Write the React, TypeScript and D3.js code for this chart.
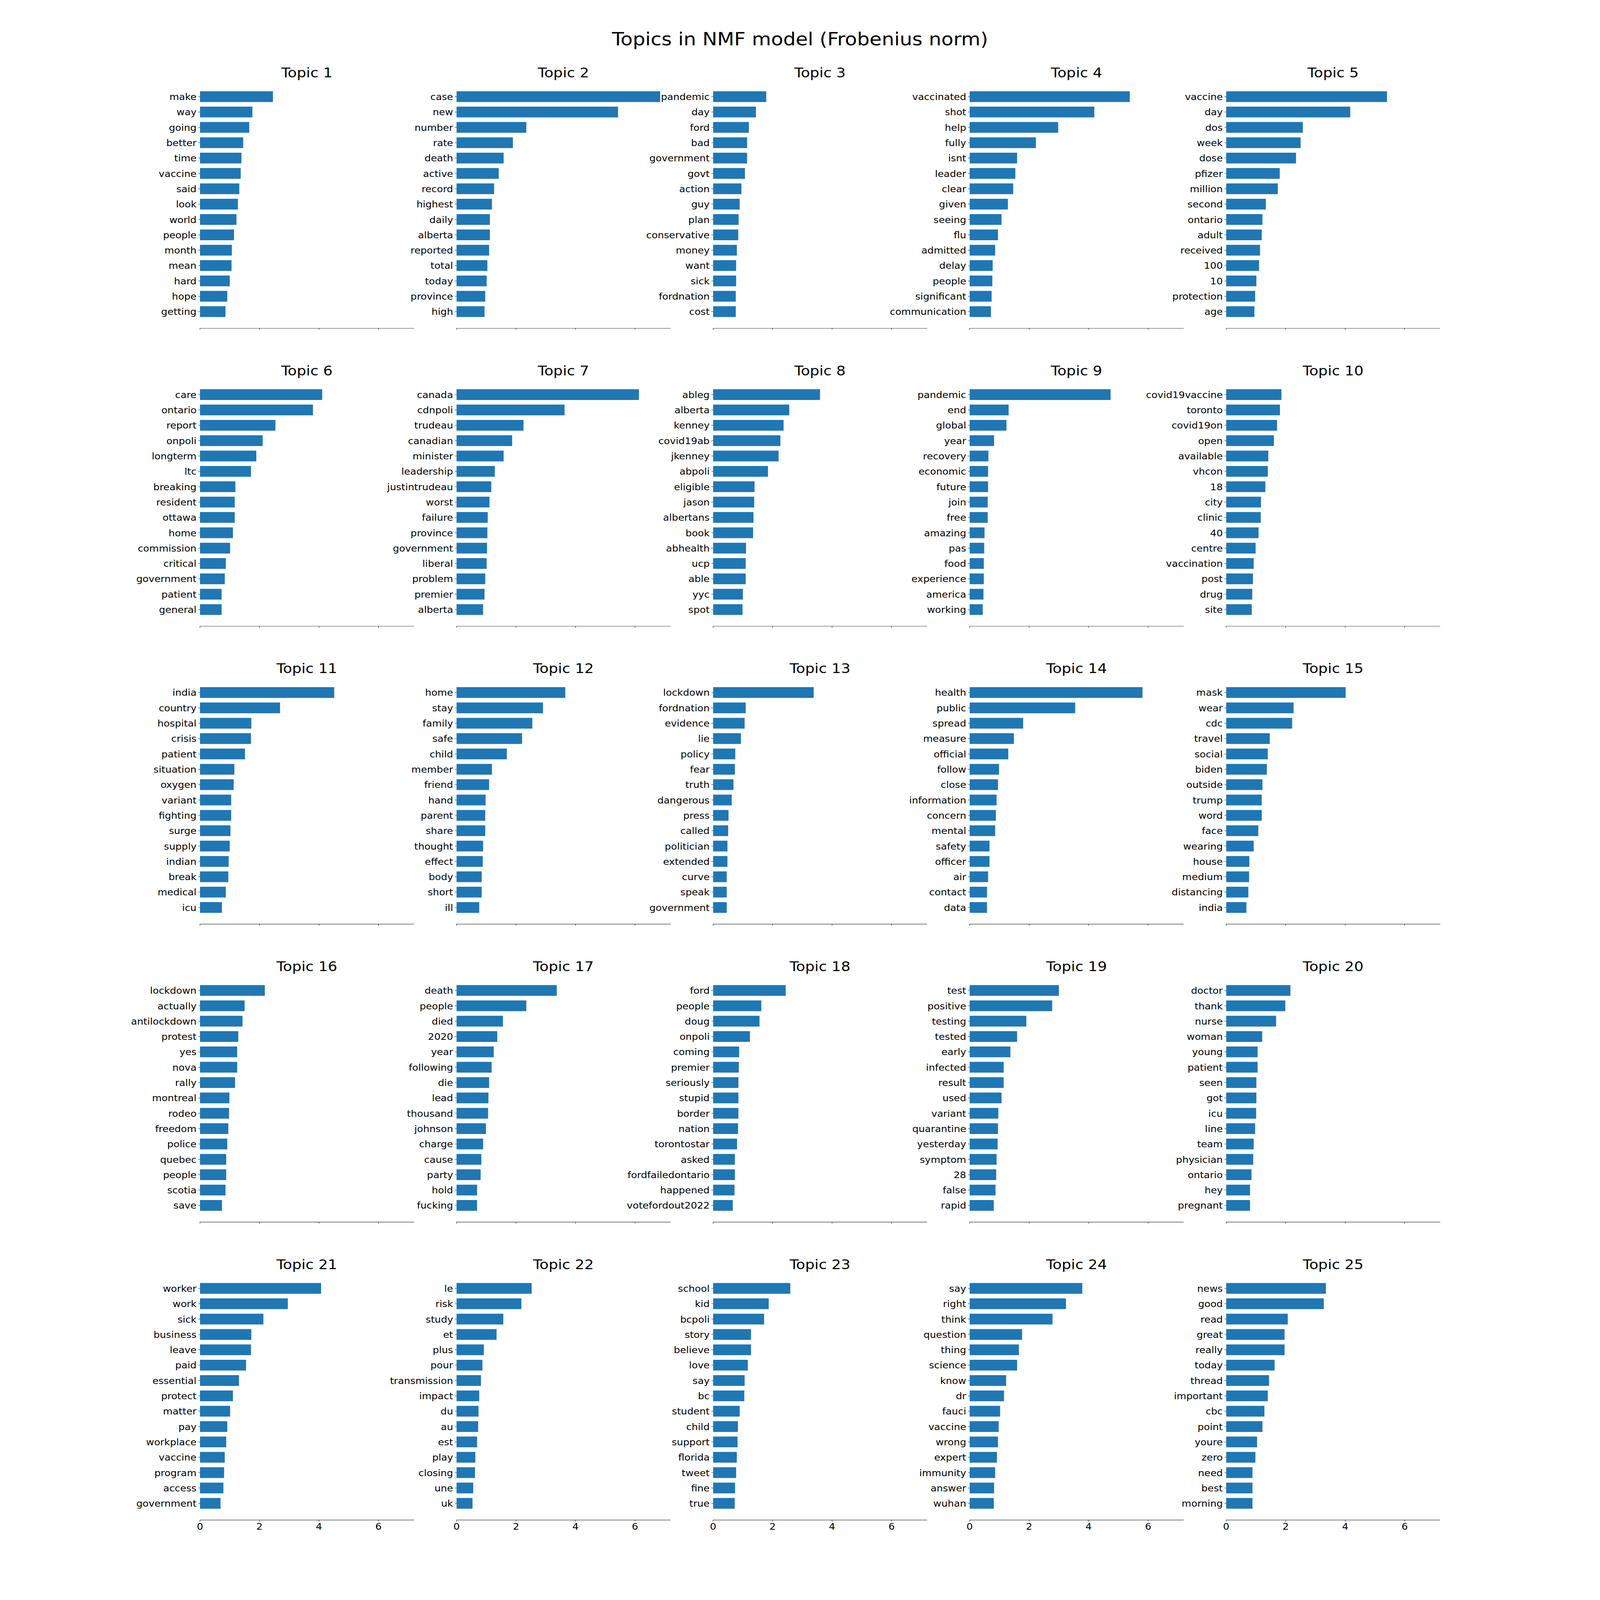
import React from "react";
import * as d3 from "d3";

// ---------------- data ----------------
const chartTitle = "Topics in NMF model (Frobenius norm)";

const topicTitles: string[] = [
  "Topic 1", "Topic 2", "Topic 3", "Topic 4", "Topic 5",
  "Topic 6", "Topic 7", "Topic 8", "Topic 9", "Topic 10",
  "Topic 11", "Topic 12", "Topic 13", "Topic 14", "Topic 15",
  "Topic 16", "Topic 17", "Topic 18", "Topic 19", "Topic 20",
  "Topic 21", "Topic 22", "Topic 23", "Topic 24", "Topic 25",
];

const topicWords: string[][] = [
  ["make", "way", "going", "better", "time", "vaccine", "said", "look", "world", "people", "month", "mean", "hard", "hope", "getting"],
  ["case", "new", "number", "rate", "death", "active", "record", "highest", "daily", "alberta", "reported", "total", "today", "province", "high"],
  ["pandemic", "day", "ford", "bad", "government", "govt", "action", "guy", "plan", "conservative", "money", "want", "sick", "fordnation", "cost"],
  ["vaccinated", "shot", "help", "fully", "isnt", "leader", "clear", "given", "seeing", "flu", "admitted", "delay", "people", "significant", "communication"],
  ["vaccine", "day", "dos", "week", "dose", "pfizer", "million", "second", "ontario", "adult", "received", "100", "10", "protection", "age"],
  ["care", "ontario", "report", "onpoli", "longterm", "ltc", "breaking", "resident", "ottawa", "home", "commission", "critical", "government", "patient", "general"],
  ["canada", "cdnpoli", "trudeau", "canadian", "minister", "leadership", "justintrudeau", "worst", "failure", "province", "government", "liberal", "problem", "premier", "alberta"],
  ["ableg", "alberta", "kenney", "covid19ab", "jkenney", "abpoli", "eligible", "jason", "albertans", "book", "abhealth", "ucp", "able", "yyc", "spot"],
  ["pandemic", "end", "global", "year", "recovery", "economic", "future", "join", "free", "amazing", "pas", "food", "experience", "america", "working"],
  ["covid19vaccine", "toronto", "covid19on", "open", "available", "vhcon", "18", "city", "clinic", "40", "centre", "vaccination", "post", "drug", "site"],
  ["india", "country", "hospital", "crisis", "patient", "situation", "oxygen", "variant", "fighting", "surge", "supply", "indian", "break", "medical", "icu"],
  ["home", "stay", "family", "safe", "child", "member", "friend", "hand", "parent", "share", "thought", "effect", "body", "short", "ill"],
  ["lockdown", "fordnation", "evidence", "lie", "policy", "fear", "truth", "dangerous", "press", "called", "politician", "extended", "curve", "speak", "government"],
  ["health", "public", "spread", "measure", "official", "follow", "close", "information", "concern", "mental", "safety", "officer", "air", "contact", "data"],
  ["mask", "wear", "cdc", "travel", "social", "biden", "outside", "trump", "word", "face", "wearing", "house", "medium", "distancing", "india"],
  ["lockdown", "actually", "antilockdown", "protest", "yes", "nova", "rally", "montreal", "rodeo", "freedom", "police", "quebec", "people", "scotia", "save"],
  ["death", "people", "died", "2020", "year", "following", "die", "lead", "thousand", "johnson", "charge", "cause", "party", "hold", "fucking"],
  ["ford", "people", "doug", "onpoli", "coming", "premier", "seriously", "stupid", "border", "nation", "torontostar", "asked", "fordfailedontario", "happened", "votefordout2022"],
  ["test", "positive", "testing", "tested", "early", "infected", "result", "used", "variant", "quarantine", "yesterday", "symptom", "28", "false", "rapid"],
  ["doctor", "thank", "nurse", "woman", "young", "patient", "seen", "got", "icu", "line", "team", "physician", "ontario", "hey", "pregnant"],
  ["worker", "work", "sick", "business", "leave", "paid", "essential", "protect", "matter", "pay", "workplace", "vaccine", "program", "access", "government"],
  ["le", "risk", "study", "et", "plus", "pour", "transmission", "impact", "du", "au", "est", "play", "closing", "une", "uk"],
  ["school", "kid", "bcpoli", "story", "believe", "love", "say", "bc", "student", "child", "support", "florida", "tweet", "fine", "true"],
  ["say", "right", "think", "question", "thing", "science", "know", "dr", "fauci", "vaccine", "wrong", "expert", "immunity", "answer", "wuhan"],
  ["news", "good", "read", "great", "really", "today", "thread", "important", "cbc", "point", "youre", "zero", "need", "best", "morning"],
];

const topicWeights: number[][] = [
  [2.452, 1.762, 1.655, 1.452, 1.393, 1.369, 1.321, 1.274, 1.226, 1.143, 1.071, 1.060, 1.000, 0.917, 0.857],
  [6.845, 5.429, 2.345, 1.893, 1.583, 1.417, 1.262, 1.190, 1.119, 1.119, 1.095, 1.036, 1.012, 0.964, 0.940],
  [1.786, 1.440, 1.202, 1.143, 1.143, 1.071, 0.952, 0.893, 0.857, 0.845, 0.798, 0.774, 0.774, 0.762, 0.762],
  [5.381, 4.190, 2.976, 2.226, 1.595, 1.536, 1.464, 1.286, 1.071, 0.952, 0.857, 0.774, 0.762, 0.738, 0.714],
  [5.405, 4.170, 2.576, 2.502, 2.347, 1.799, 1.733, 1.333, 1.218, 1.194, 1.137, 1.104, 1.014, 0.973, 0.948],
  [4.107, 3.798, 2.536, 2.107, 1.893, 1.714, 1.190, 1.167, 1.167, 1.107, 1.012, 0.869, 0.833, 0.726, 0.726],
  [6.131, 3.631, 2.250, 1.869, 1.583, 1.286, 1.167, 1.107, 1.048, 1.036, 1.024, 1.012, 0.964, 0.940, 0.893],
  [3.595, 2.560, 2.369, 2.262, 2.202, 1.845, 1.393, 1.381, 1.357, 1.345, 1.107, 1.095, 1.095, 1.000, 0.988],
  [4.738, 1.310, 1.238, 0.821, 0.631, 0.619, 0.619, 0.607, 0.607, 0.500, 0.488, 0.476, 0.476, 0.464, 0.440],
  [1.856, 1.807, 1.709, 1.603, 1.415, 1.398, 1.316, 1.169, 1.161, 1.087, 0.989, 0.924, 0.899, 0.875, 0.859],
  [4.512, 2.690, 1.726, 1.714, 1.512, 1.155, 1.131, 1.048, 1.048, 1.024, 1.000, 0.964, 0.952, 0.869, 0.738],
  [3.655, 2.905, 2.548, 2.202, 1.690, 1.190, 1.095, 0.976, 0.964, 0.964, 0.893, 0.881, 0.845, 0.845, 0.762],
  [3.381, 1.095, 1.060, 0.935, 0.745, 0.732, 0.685, 0.625, 0.518, 0.506, 0.482, 0.482, 0.458, 0.458, 0.458],
  [5.810, 3.548, 1.798, 1.488, 1.298, 0.988, 0.952, 0.905, 0.881, 0.857, 0.667, 0.667, 0.619, 0.583, 0.583],
  [4.015, 2.265, 2.216, 1.464, 1.398, 1.365, 1.218, 1.194, 1.194, 1.079, 0.924, 0.777, 0.769, 0.744, 0.679],
  [2.179, 1.500, 1.429, 1.286, 1.250, 1.250, 1.179, 0.988, 0.976, 0.952, 0.917, 0.881, 0.881, 0.857, 0.738],
  [3.369, 2.345, 1.560, 1.369, 1.250, 1.179, 1.095, 1.071, 1.060, 0.988, 0.893, 0.833, 0.810, 0.690, 0.690],
  [2.440, 1.619, 1.560, 1.238, 0.875, 0.863, 0.851, 0.851, 0.851, 0.839, 0.804, 0.732, 0.732, 0.720, 0.661],
  [3.000, 2.774, 1.905, 1.595, 1.369, 1.143, 1.143, 1.071, 0.964, 0.952, 0.940, 0.905, 0.893, 0.869, 0.810],
  [2.159, 1.987, 1.676, 1.210, 1.055, 1.055, 1.014, 1.014, 1.006, 0.973, 0.924, 0.908, 0.850, 0.801, 0.801],
  [4.071, 2.952, 2.131, 1.726, 1.714, 1.548, 1.310, 1.107, 1.012, 0.917, 0.881, 0.833, 0.810, 0.786, 0.690],
  [2.524, 2.179, 1.571, 1.345, 0.917, 0.869, 0.821, 0.762, 0.738, 0.726, 0.690, 0.631, 0.619, 0.560, 0.536],
  [2.595, 1.869, 1.714, 1.274, 1.274, 1.167, 1.060, 1.048, 0.893, 0.833, 0.821, 0.798, 0.774, 0.738, 0.726],
  [3.786, 3.238, 2.786, 1.762, 1.655, 1.595, 1.226, 1.155, 1.024, 0.976, 0.952, 0.917, 0.857, 0.821, 0.810],
  [3.352, 3.279, 2.069, 1.962, 1.962, 1.627, 1.439, 1.398, 1.284, 1.218, 1.038, 0.981, 0.883, 0.883, 0.883],
];

const xTicks: number[] = [0, 2, 4, 6];

// ---------------- layout (figure coordinates, scaled to the window via viewBox) ----------------
const FIG_W = 4500;
const FIG_H = 5000;
const DPI = 100;
const pt = (v: number) => (v * DPI) / 72;

const NCOLS = 5;
const NROWS = 5;
const LEFT = 0.125 * FIG_W;
const RIGHT = 0.9 * FIG_W;
const TOP = (1 - 0.95) * FIG_H;
const BOTTOM = (1 - 0.05) * FIG_H;
const WSPACE = 0.2;
const HSPACE = 0.2;
const AX_W = (RIGHT - LEFT) / (NCOLS + (NCOLS - 1) * WSPACE);
const AX_H = (BOTTOM - TOP) / (NROWS + (NROWS - 1) * HSPACE);

const BAR_COLOR = "#1f77b4";
const FONT = "'DejaVu Sans', sans-serif";
const TICK_FS = pt(20);
const TITLE_FS = pt(30);
const SUPTITLE_FS = pt(40);
const TICK_LEN = pt(3.5);
const TICK_PAD = pt(3.5);
const LINE_W = pt(0.8);
const BAR_H = 0.7;

const allMax = d3.max(topicWeights.flat()) as number;
const xMax = allMax * 1.05;

function Subplot({ idx }: { idx: number }) {
  const row = Math.floor(idx / NCOLS);
  const col = idx % NCOLS;
  const x0 = LEFT + col * AX_W * (1 + WSPACE);
  const y0 = TOP + row * AX_H * (1 + HSPACE);
  const words = topicWords[idx];
  const weights = topicWeights[idx];
  const n = words.length;
  const dataLo = -BAR_H / 2;
  const dataHi = n - 1 + BAR_H / 2;
  const m = 0.05 * (dataHi - dataLo);
  const y = d3.scaleLinear().domain([dataLo - m, dataHi + m]).range([y0, y0 + AX_H]);
  const x = d3.scaleLinear().domain([0, xMax]).range([x0, x0 + AX_W]);
  const bandPx = Math.abs(y(1) - y(0));
  const showXLabels = row === NROWS - 1;
  return (
    <g>
      <text
        x={x0 + AX_W / 2}
        y={y0 - pt(6)}
        textAnchor="middle"
        fontSize={TITLE_FS}
        fontFamily={FONT}
        fill="#000"
      >
        {topicTitles[idx]}
      </text>
      {weights.map((v, i) => (
        <rect
          key={i}
          x={x(0)}
          y={y(i) - (BAR_H * bandPx) / 2}
          width={x(v) - x(0)}
          height={BAR_H * bandPx}
          fill={BAR_COLOR}
        />
      ))}
      {words.map((w, i) => (
        <g key={"yt" + i}>
          <line
            x1={x0 - TICK_LEN}
            x2={x0}
            y1={y(i)}
            y2={y(i)}
            stroke="#000"
            strokeWidth={LINE_W}
          />
          <text
            x={x0 - TICK_LEN - TICK_PAD}
            y={y(i)}
            dy="0.38em"
            textAnchor="end"
            fontSize={TICK_FS}
            fontFamily={FONT}
            fill="#000"
          >
            {w}
          </text>
        </g>
      ))}
      <line
        x1={x0}
        x2={x0 + AX_W}
        y1={y0 + AX_H}
        y2={y0 + AX_H}
        stroke="#000"
        strokeWidth={LINE_W}
        strokeLinecap="square"
      />
      {xTicks.map((t) => (
        <g key={"xt" + t}>
          <line
            x1={x(t)}
            x2={x(t)}
            y1={y0 + AX_H}
            y2={y0 + AX_H + TICK_LEN}
            stroke="#000"
            strokeWidth={LINE_W}
          />
          {showXLabels && (
            <text
              x={x(t)}
              y={y0 + AX_H + TICK_LEN + TICK_PAD + 0.76 * TICK_FS}
              textAnchor="middle"
              fontSize={TICK_FS}
              fontFamily={FONT}
              fill="#000"
            >
              {t}
            </text>
          )}
        </g>
      ))}
    </g>
  );
}

export default function App() {
  return (
    <svg
      viewBox={`0 0 ${FIG_W} ${FIG_H}`}
      preserveAspectRatio="none"
      style={{
        position: "absolute",
        left: 0,
        top: 0,
        width: "100vw",
        height: "100vh",
        background: "#fff",
        display: "block",
      }}
    >
      <rect x={0} y={0} width={FIG_W} height={FIG_H} fill="#fff" />
      <text
        x={FIG_W / 2}
        y={0.02 * FIG_H + 0.76 * SUPTITLE_FS}
        textAnchor="middle"
        fontSize={SUPTITLE_FS}
        fontFamily={FONT}
        fill="#000"
      >
        {chartTitle}
      </text>
      {topicTitles.map((_, i) => (
        <Subplot key={i} idx={i} />
      ))}
    </svg>
  );
}
